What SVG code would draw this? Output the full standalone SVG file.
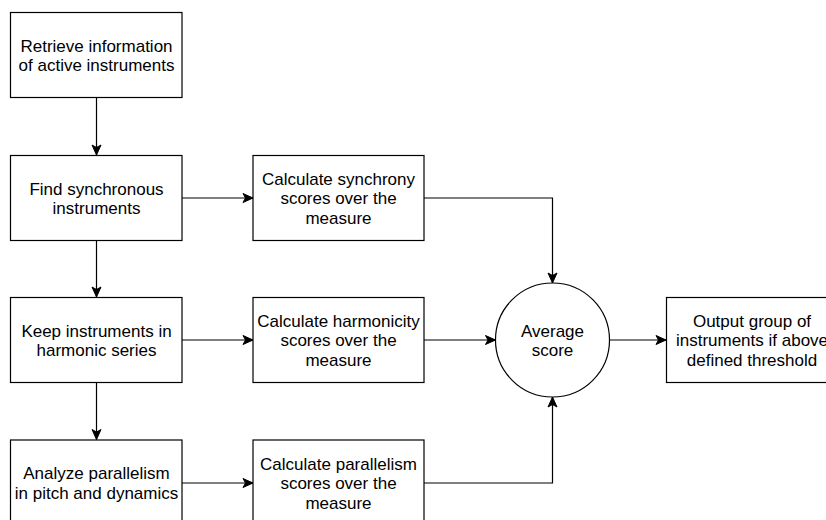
<svg xmlns="http://www.w3.org/2000/svg" width="826" height="520" viewBox="0 0 826 520">
<style>
.box{fill:#ffffff;stroke:#000000;stroke-width:1.2}
.t{font-family:"Liberation Sans",Arial,Helvetica,sans-serif;font-size:17px;fill:#000000;text-anchor:middle}
.c{fill:none;stroke:#000000;stroke-width:1.2}
</style>
<defs>
<marker id="arr" markerUnits="userSpaceOnUse" markerWidth="12" markerHeight="12" viewBox="0 0 12 12" refX="11" refY="6" orient="auto">
<path d="M1,1.5 L11,6 L1,10.5 L3.5,6 Z" fill="#000000" stroke="#000000" stroke-width="1"/>
</marker>
</defs>
<rect width="826" height="520" fill="#ffffff"/>
<g id="connectors">
<path class="c" d="M96.5,97.5 L96.5,155" marker-end="url(#arr)"/>
<path class="c" d="M96.5,240.5 L96.5,297" marker-end="url(#arr)"/>
<path class="c" d="M96.5,382.5 L96.5,439.5" marker-end="url(#arr)"/>
<path class="c" d="M182,198 L253,198" marker-end="url(#arr)"/>
<path class="c" d="M182,340 L253,340" marker-end="url(#arr)"/>
<path class="c" d="M182,483 L253,483" marker-end="url(#arr)"/>
<path class="c" d="M424,198 L552.5,198 L552.5,283" marker-end="url(#arr)"/>
<path class="c" d="M424,340 L495.5,340" marker-end="url(#arr)"/>
<path class="c" d="M424,483 L552.5,483 L552.5,397" marker-end="url(#arr)"/>
<path class="c" d="M609.5,340 L666,340" marker-end="url(#arr)"/>
</g>
<g id="retrieve">
<rect class="box" x="10.5" y="12.5" width="171.5" height="85"/>
<text class="t" x="96.5" y="51.5">Retrieve information</text>
<text class="t" x="96.5" y="71">of active instruments</text>
</g>
<g id="find">
<rect class="box" x="10.5" y="155.5" width="171.5" height="85"/>
<text class="t" x="96.5" y="194.5">Find synchronous</text>
<text class="t" x="96.5" y="214">instruments</text>
</g>
<g id="keep">
<rect class="box" x="10.5" y="297.5" width="171.5" height="85"/>
<text class="t" x="96.5" y="336.5">Keep instruments in</text>
<text class="t" x="96.5" y="356">harmonic series</text>
</g>
<g id="analyze">
<rect class="box" x="10.5" y="440" width="171.5" height="85"/>
<text class="t" x="96.5" y="479">Analyze parallelism</text>
<text class="t" x="96.5" y="498.5">in pitch and dynamics</text>
</g>
<g id="sync">
<rect class="box" x="253" y="155.5" width="171" height="85"/>
<text class="t" x="338.5" y="184.5">Calculate synchrony</text>
<text class="t" x="338.5" y="204">scores over the</text>
<text class="t" x="338.5" y="223.5">measure</text>
</g>
<g id="harm">
<rect class="box" x="253" y="297.5" width="171" height="85"/>
<text class="t" x="338.5" y="326.5">Calculate harmonicity</text>
<text class="t" x="338.5" y="346">scores over the</text>
<text class="t" x="338.5" y="365.5">measure</text>
</g>
<g id="par">
<rect class="box" x="253" y="440" width="171" height="85"/>
<text class="t" x="338.5" y="469.5">Calculate parallelism</text>
<text class="t" x="338.5" y="489">scores over the</text>
<text class="t" x="338.5" y="508.5">measure</text>
</g>
<g id="average">
<circle class="box" cx="552.5" cy="340" r="57"/>
<text class="t" x="552.5" y="336.5">Average</text>
<text class="t" x="552.5" y="356">score</text>
</g>
<g id="output">
<rect class="box" x="666.5" y="297.5" width="171" height="85"/>
<text class="t" x="752" y="326.5">Output group of</text>
<text class="t" x="752" y="346">instruments if above</text>
<text class="t" x="752" y="365.5">defined threshold</text>
</g>
</svg>
